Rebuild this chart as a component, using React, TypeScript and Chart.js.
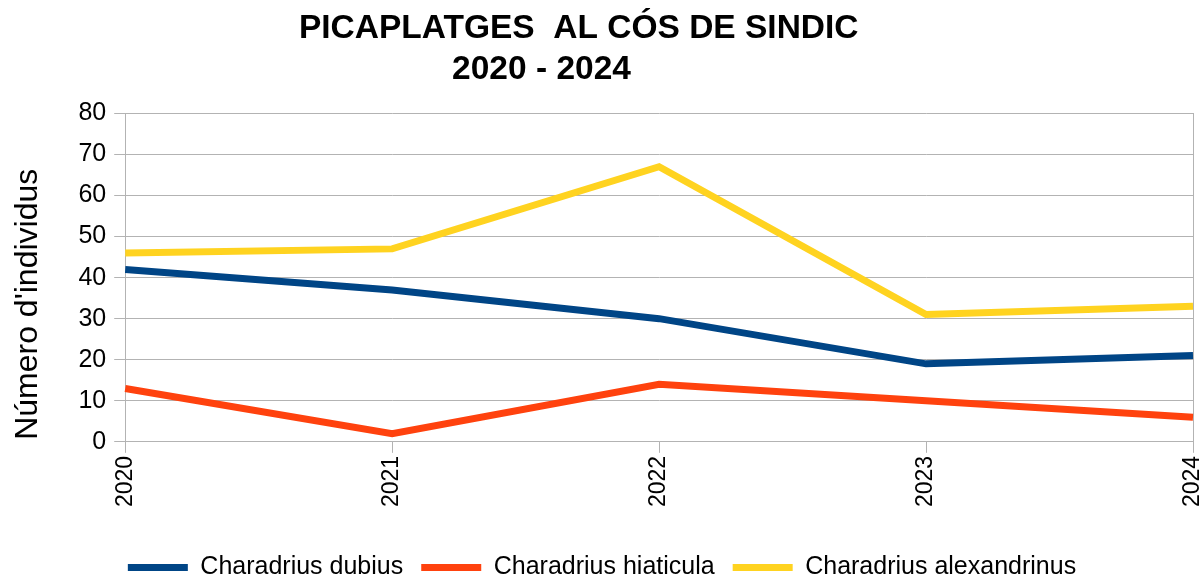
import React, { useEffect, useRef } from "react";
import { Chart, registerables } from "chart.js";

Chart.register(...registerables);

const years = ["2020", "2021", "2022", "2023", "2024"];
const dubius = [42, 37, 30, 19, 21];
const hiaticula = [13, 2, 14, 10, 6];
const alexandrinus = [46, 47, 67, 31, 33];
const seriesNames = ["Charadrius dubius", "Charadrius hiaticula", "Charadrius alexandrinus"];
const seriesColors = ["#004586", "#ff420e", "#ffd320"];
const yTicks = [0, 10, 20, 30, 40, 50, 60, 70, 80];

const FONT = "'Liberation Sans', Arial, sans-serif";
const GRID = "#b3b3b3";

export default function App() {
  const ref = useRef<HTMLCanvasElement | null>(null);
  useEffect(() => {
    if (!ref.current) return;
    const values = [dubius, hiaticula, alexandrinus];
    const chart = new Chart(ref.current, {
      type: "line",
      data: {
        labels: years,
        datasets: values.map((v, i) => ({
          label: seriesNames[i],
          data: v,
          borderColor: seriesColors[i],
          backgroundColor: seriesColors[i],
          borderWidth: 7,
          pointRadius: 0,
          tension: 0,
          yAxisID: "y",
        })),
      },
      options: {
        animation: false,
        responsive: true,
        maintainAspectRatio: false,
        layout: { padding: { left: 0, right: 0, top: 0, bottom: -14 } },
        plugins: {
          title: {
            display: true,
            text: ["PICAPLATGES  AL CÓS DE SINDIC     ", "2020 - 2024             "],
            color: "#000",
            font: { family: FONT, size: 33.5, weight: "bold" },
            padding: { top: 9, bottom: 24 },
          },
          legend: {
            position: "bottom",
            labels: {
              color: "#000",
              font: { family: FONT, size: 25 },
              boxWidth: 60,
              boxHeight: 7,
              padding: 18,
              generateLabels: (c: any) =>
                Chart.defaults.plugins.legend.labels
                  .generateLabels(c)
                  .map((l: any) => ({ ...l, lineWidth: 0 })),
            },
          },
          tooltip: { enabled: false },
        },
        scales: {
          x: {
            type: "category",
            offset: false,
            grid: { drawOnChartArea: false, color: GRID, tickLength: 11 },
            border: { color: GRID },
            ticks: {
              color: "#000",
              font: { family: FONT, size: 23 },
              maxRotation: 90,
              minRotation: 90,
              padding: 3,
            },
            afterFit: (s: any) => {
              s.height += 27;
              s.paddingRight = 11;
            },
          },
          y: {
            min: 0,
            max: 80,
            afterBuildTicks: (s: any) => {
              s.ticks = yTicks.map((v) => ({ value: v }));
            },
            grid: { color: GRID, tickLength: 11 },
            border: { color: GRID },
            ticks: {
              color: "#000",
              font: { family: FONT, size: 25 },
              padding: 8,
            },
            title: {
              display: true,
              text: "Número d'individus      ",
              color: "#000",
              font: { family: FONT, size: 32 },
              padding: { top: 9, bottom: 23 },
            },
          },
          y2: {
            position: "right",
            min: 0,
            max: 80,
            grid: { drawOnChartArea: false, drawTicks: false },
            border: { color: GRID },
            ticks: { display: false },
          },
        },
      },
    });
    return () => chart.destroy();
  }, []);
  return (
    <div style={{ position: "fixed", left: 0, top: 0, width: 1204, height: 576, background: "#fff" }}>
      <canvas ref={ref} />
    </div>
  );
}
